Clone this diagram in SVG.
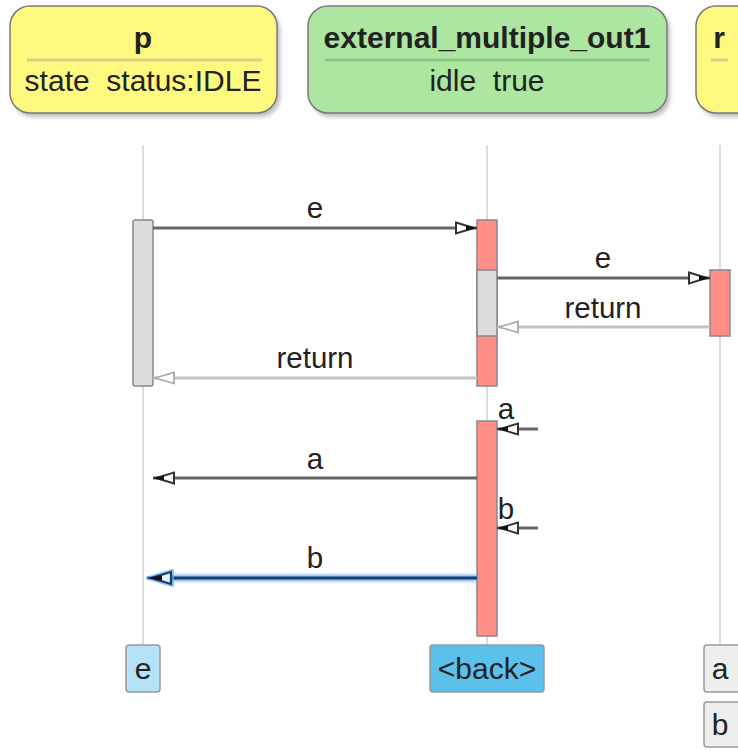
<svg xmlns="http://www.w3.org/2000/svg" width="738" height="751" viewBox="0 0 738 751">
<style>
text{font-family:"Liberation Sans",Arial,sans-serif;fill:#222;text-anchor:middle}
.title{font-size:30px;font-weight:bold}
.body{font-size:30px}
.lbl{font-size:29.5px}
.hdr{stroke:#7a7a7a;stroke-width:1.5}
.shadow{fill:#888;opacity:.55}
.life{stroke:#ddd;stroke-width:2}
.act{stroke:#888;stroke-width:1.5}
.red{fill:#ff8e86}
.gray{fill:#dddddd}
.msg{stroke:#666;stroke-width:3;fill:none}
.ret{stroke:#c4c4c4;stroke-width:3;fill:none}
.end{stroke:#999;stroke-width:1.5}
</style>
<defs>
<filter id="blur" x="-10%" y="-10%" width="130%" height="130%"><feGaussianBlur stdDeviation="2"/></filter>
<filter id="glow" filterUnits="userSpaceOnUse" x="130" y="560" width="360" height="36"><feGaussianBlur stdDeviation="1.5"/></filter>
<marker id="open" viewBox="0 0 24 14" refX="23" refY="7" markerWidth="24" markerHeight="14" markerUnits="userSpaceOnUse" orient="auto">
<path d="M2,1.5 L20,7 L2,12.5 Z" fill="#fff" stroke="#333" stroke-width="2"/>
<path d="M12,4.5 L23,7 L12,9.5 Z" fill="#111"/>
</marker>
<marker id="openL" viewBox="0 0 24 14" refX="23" refY="7" markerWidth="24" markerHeight="14" markerUnits="userSpaceOnUse" orient="auto">
<path d="M2,1.5 L21,7 L2,12.5 Z" fill="#fff" stroke="#aaa" stroke-width="1.8"/>
</marker>
<marker id="openB" viewBox="0 0 30 18" refX="29" refY="9" markerWidth="30" markerHeight="18" markerUnits="userSpaceOnUse" orient="auto">
<path d="M4,2 L27,9 L4,16 Z" fill="#6fb4f5" stroke="#6fb4f5" stroke-width="4" opacity="0.7"/>
<path d="M5,3 L25,9 L5,15 Z" fill="#e6f0fb" stroke="#1b3d6b" stroke-width="2.2"/>
<path d="M14,6.5 L28,9 L14,11.5 Z" fill="#111"/>
</marker>
</defs>

<g id="lifelines">
<line class="life" x1="143" y1="145" x2="143" y2="645"/>
<line class="life" x1="487" y1="145" x2="487" y2="645"/>
<line class="life" x1="720" y1="145" x2="720" y2="645"/>
</g>

<g id="node-p">
<rect class="shadow" x="13" y="10" width="267" height="107" rx="20" filter="url(#blur)"/>
<rect class="hdr" x="10" y="6" width="267" height="107" rx="20" fill="#fff97f"/>
<line x1="27" y1="60" x2="262" y2="60" stroke="#d6cf84" stroke-width="3"/>
<text class="title" x="143" y="48">p</text>
<text class="body" x="143" y="91" xml:space="preserve">state  status:IDLE</text>
</g>

<g id="node-external_multiple_out1">
<rect class="shadow" x="311" y="10" width="359" height="107" rx="20" filter="url(#blur)"/>
<rect class="hdr" x="308" y="6" width="359" height="107" rx="20" fill="#ace6a0"/>
<line x1="325" y1="60" x2="650" y2="60" stroke="#8ec888" stroke-width="3"/>
<text class="title" x="487" y="48">external_multiple_out1</text>
<text class="body" x="487" y="91" xml:space="preserve">idle  true</text>
</g>

<g id="node-r">
<rect class="shadow" x="699" y="10" width="60" height="107" rx="20" filter="url(#blur)"/>
<rect class="hdr" x="696" y="6" width="60" height="107" rx="20" fill="#fff97f"/>
<line x1="711" y1="60" x2="728" y2="60" stroke="#d6cf84" stroke-width="3"/>
<text class="title" x="719" y="48">r</text>
</g>

<g id="activations">
<rect class="act gray" x="133" y="220" width="20" height="166" rx="2"/>
<rect class="act red" x="477" y="220" width="20" height="166"/>
<rect class="act gray" x="477" y="270" width="20" height="66"/>
<rect class="act red" x="710" y="270" width="20" height="66"/>
<rect class="act red" x="477" y="421" width="20" height="215"/>
</g>

<g id="connectors">
<line class="msg" x1="153" y1="228" x2="477" y2="228" marker-end="url(#open)"/>
<text class="lbl" x="315" y="218">e</text>
<line class="msg" x1="497" y1="278" x2="710" y2="278" marker-end="url(#open)"/>
<text class="lbl" x="603" y="268">e</text>
<line class="ret" x1="710" y1="327" x2="497" y2="327" marker-end="url(#openL)"/>
<text class="lbl" x="603" y="318">return</text>
<line class="ret" x1="477" y1="378" x2="153" y2="378" marker-end="url(#openL)"/>
<text class="lbl" x="315" y="368">return</text>
<line class="msg" x1="538" y1="429" x2="497" y2="429" marker-end="url(#open)"/>
<text class="lbl" x="506" y="419">a</text>
<line class="msg" x1="477" y1="478" x2="153" y2="478" marker-end="url(#open)"/>
<text class="lbl" x="315" y="469">a</text>
<line class="msg" x1="538" y1="528" x2="497" y2="528" marker-end="url(#open)"/>
<text class="lbl" x="506" y="519">b</text>
<rect x="160" y="574.5" width="318" height="7" rx="3.5" fill="#5aa6f2" opacity="0.75" filter="url(#glow)"/>
<line x1="477" y1="578" x2="147" y2="578" stroke="#1b3d6b" stroke-width="3" marker-end="url(#openB)"/>
<text class="lbl" x="315" y="568">b</text>
</g>

<g id="end-e">
<rect class="end" x="126" y="645" width="34" height="47" rx="3" fill="#b5e2f6"/>
<text class="body" x="143" y="679">e</text>
</g>
<g id="end-back">
<rect class="end" x="430" y="645" width="114" height="47" rx="3" fill="#5bc0ea"/>
<text class="body" x="487" y="679">&lt;back&gt;</text>
</g>
<g id="end-a">
<rect class="end" x="704" y="645" width="40" height="47" rx="3" fill="#eeeeee"/>
<text class="body" x="720" y="679">a</text>
</g>
<g id="end-b">
<rect class="end" x="704" y="702" width="40" height="45" rx="3" fill="#eeeeee"/>
<text class="body" x="720" y="735">b</text>
</g>
</svg>
